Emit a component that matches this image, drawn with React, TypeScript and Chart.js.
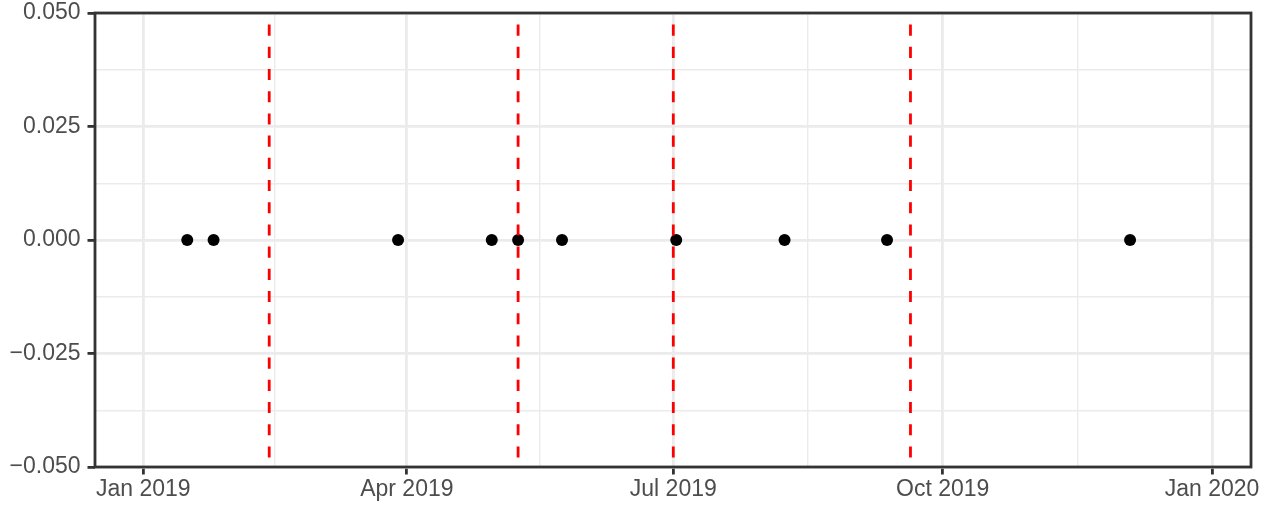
import React, { useEffect, useRef } from "react";
import { Chart, registerables } from "chart.js";

Chart.register(...registerables);

// ---- data ----
const POINT_DATES = [
  "2019-01-16", "2019-01-25", "2019-03-29", "2019-04-30", "2019-05-09",
  "2019-05-24", "2019-07-02", "2019-08-08", "2019-09-12", "2019-12-04",
];
const POINT_VALUES = [0, 0, 0, 0, 0, 0, 0, 0, 0, 0];
const VLINE_DATES = ["2019-02-13", "2019-05-09", "2019-07-01", "2019-09-20"];

const X_TICK_DATES = ["2019-01-01", "2019-04-01", "2019-07-01", "2019-10-01", "2020-01-01"];
const X_TICK_LABELS = ["Jan 2019", "Apr 2019", "Jul 2019", "Oct 2019", "Jan 2020"];
const X_MIN_DAY = -16.5; // days relative to 2019-01-01
const X_MAX_DAY = 378.3;

const Y_TICKS = [-0.05, -0.025, 0, 0.025, 0.05];
const Y_TICK_LABELS = ["\u22120.050", "\u22120.025", "0.000", "0.025", "0.050"];
const Y_MIN = -0.05;
const Y_MAX = 0.05;

// ---- helpers ----
const BASE = Date.UTC(2019, 0, 1);
const dayOf = (s: string) => (Date.parse(s + "T00:00:00Z") - BASE) / 86400000;

const midpoints = (arr: number[]) => {
  const out: number[] = [];
  for (let i = 0; i < arr.length - 1; i++) out.push((arr[i] + arr[i + 1]) / 2);
  return out;
};

const GRID = "#EBEBEB";
const DARK = "#333333";
const TEXT = "#4D4D4D";
const FONT = { family: "'Liberation Sans', Arial, Helvetica, sans-serif", size: 23 };

export default function App() {
  const ref = useRef<HTMLCanvasElement | null>(null);

  useEffect(() => {
    if (!ref.current) return;
    const xMajor = X_TICK_DATES.map(dayOf);
    const xMinor = midpoints(xMajor);
    const yMinor = midpoints(Y_TICKS);

    const xTicks = [
      ...xMajor.map((v, i) => ({ value: v, isMajor: true, text: X_TICK_LABELS[i] })),
      ...xMinor.map((v) => ({ value: v, isMajor: false, text: "" })),
    ].sort((a, b) => a.value - b.value);
    const yTicks = [
      ...Y_TICKS.map((v, i) => ({ value: v, isMajor: true, text: Y_TICK_LABELS[i] })),
      ...yMinor.map((v) => ({ value: v, isMajor: false, text: "" })),
    ].sort((a, b) => a.value - b.value);

    const vlineSets = VLINE_DATES.map((d) => ({
      type: "line" as const,
      data: [
        { x: dayOf(d), y: Y_MIN },
        { x: dayOf(d), y: Y_MAX },
      ],
      borderColor: "#FF0000",
      borderWidth: 2.8,
      borderDash: [11.1, 11.1],
      borderDashOffset: 12.7,
      pointRadius: 0,
      fill: false,
      order: 0,
    }));

    const pointSet = {
      type: "scatter" as const,
      data: POINT_DATES.map((d, i) => ({ x: dayOf(d), y: POINT_VALUES[i] })),
      backgroundColor: "#000000",
      borderWidth: 0,
      pointRadius: 6,
      order: 1,
    };

    const isMajor = (ctx: any) => !!(ctx.tick && ctx.tick.isMajor);

    const chart = new Chart(ref.current, {
      type: "scatter",
      data: { datasets: [pointSet as any, ...(vlineSets as any)] },
      options: {
        animation: false,
        responsive: false,
        events: [],
        layout: { padding: { top: 13, right: 15, left: 0, bottom: 0 } },
        plugins: { legend: { display: false }, tooltip: { enabled: false } },
        scales: {
          x: {
            type: "linear",
            min: X_MIN_DAY,
            max: X_MAX_DAY,
            afterBuildTicks: (s: any) => {
              s.ticks = xTicks.map((t) => ({ ...t }));
            },
            afterFit: (s: any) => {
              s.height = 40;
              s.paddingLeft = 0;
              s.paddingRight = 0;
            },
            ticks: {
              autoSkip: false,
              maxRotation: 0,
              minRotation: 0,
              color: TEXT,
              font: FONT,
              padding: 1,
              callback: (_v: any, i: number, ticks: any[]) => ticks[i].text,
            },
            grid: {
              color: GRID,
              lineWidth: (ctx: any) => (isMajor(ctx) ? 2.8 : 1.4),
              tickColor: (ctx: any) => (isMajor(ctx) ? DARK : "rgba(0,0,0,0)"),
              tickWidth: 2.8,
              tickLength: 7.5,
            },
            border: { display: false },
          },
          y: {
            type: "linear",
            min: Y_MIN,
            max: Y_MAX,
            afterBuildTicks: (s: any) => {
              s.ticks = yTicks.map((t) => ({ ...t }));
            },
            afterFit: (s: any) => {
              s.width = 95;
              s.paddingTop = 0;
              s.paddingBottom = 0;
            },
            ticks: {
              autoSkip: false,
              color: TEXT,
              font: FONT,
              padding: 7,
              callback: (_v: any, i: number, ticks: any[]) => ticks[i].text,
            },
            grid: {
              color: GRID,
              lineWidth: (ctx: any) => (isMajor(ctx) ? 2.8 : 1.4),
              tickColor: (ctx: any) => (isMajor(ctx) ? DARK : "rgba(0,0,0,0)"),
              tickWidth: 2.8,
              tickLength: 7.5,
            },
            border: { display: false },
          },
        },
      },
      plugins: [
        {
          id: "panelBorder",
          afterDraw(c: any) {
            const { left, top, right, bottom } = c.chartArea;
            const g = c.ctx;
            g.save();
            g.strokeStyle = DARK;
            g.lineWidth = 2.8;
            g.strokeRect(left, top, right - left, bottom - top);
            g.restore();
          },
        },
      ],
    } as any);

    return () => chart.destroy();
  }, []);

  return (
    <div style={{ position: "fixed", left: 0, top: 0, width: 1266, height: 507, background: "#fff" }}>
      <canvas ref={ref} width={1266} height={507} style={{ display: "block" }} />
    </div>
  );
}
